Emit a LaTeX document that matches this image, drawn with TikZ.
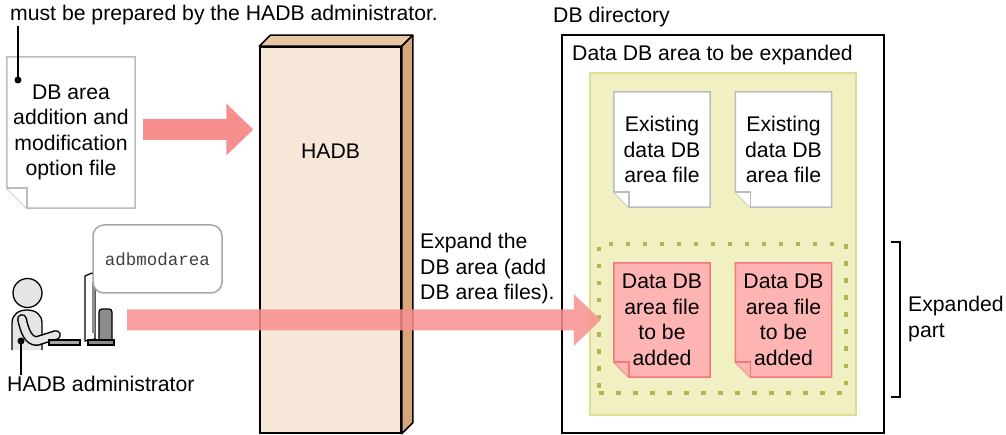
\documentclass[tikz,border=0pt]{standalone}
\usepackage{fontspec}
\setmainfont{Liberation Sans}
\setmonofont{Liberation Mono}
\usetikzlibrary{positioning,calc,backgrounds}

\definecolor{arrowpink}{RGB}{248,143,143}
\definecolor{hadbfront}{RGB}{247,231,216}
\definecolor{hadbtop}{RGB}{233,198,166}
\definecolor{hadbside}{RGB}{215,167,122}
\definecolor{areayellow}{RGB}{240,240,194}
\definecolor{areaborder}{RGB}{222,222,150}
\definecolor{dotolive}{RGB}{180,180,82}
\definecolor{addfill}{RGB}{255,180,180}
\definecolor{addborder}{RGB}{238,122,122}
\definecolor{docgray}{RGB}{188,188,188}

% file outline with a turned-down bottom-left corner: node, fold, style
\newcommand{\foldfile}[3]{%
  \filldraw[#3] (#1.north west) -- (#1.north east) -- (#1.south east)
    -- ($(#1.south west)+(#2,0)$) -- ($(#1.south west)+(0,-#2)$) -- cycle;
  \draw[#3] ($(#1.south west)+(0,-#2)$) -- ($(#1.south west)+(#2,-#2)$)
    -- ($(#1.south west)+(#2,0)$);}

% broad horizontal arrow: tail point, tip point, style
\newcommand{\broadarrow}[3]{%
  \fill[#3] let \p1=(#1), \p2=(#2) in
    (\x1,\y1+10.5pt) -- (\x2-27pt,\y1+10.5pt) -- (\x2-27pt,\y1+26pt)
    -- (\x2,\y1) -- (\x2-27pt,\y1-26pt) -- (\x2-27pt,\y1-10.5pt)
    -- (\x1,\y1-10.5pt) -- cycle;}

\begin{document}
\begin{tikzpicture}[
    x=1pt, y=-1pt,
    font=\fontsize{21.2}{25.5}\selectfont,
    textline/.style={inner sep=0pt},
    filebox/.style={align=center, inner sep=0pt, minimum width=96pt},
    plainfile/.style={fill=white, draw=docgray, line width=1.5pt},
    addfile/.style={fill=addfill, draw=addborder, line width=1.5pt},
    callout/.style={line width=1.5pt},
    fatarrow/.style={fill=arrowpink},
    bubble/.style={draw=black!35, line width=1.5pt, rounded corners=11pt,
                   fill=white, minimum width=129pt, minimum height=68pt},
    persona/.style={fill=black!10, draw=black, line width=1.3pt},
    bracketline/.style={line width=1.8pt},
]
\useasboundingbox (0,0) rectangle (1006,435);

% === Note on the option file ===
\node[textline, anchor=base west] (prepnote) at (10,21)
     {must be prepared by the HADB administrator.};
\coordinate (prepdot) at (18,80);
\draw[callout] (prepdot) -- (prepdot |- prepnote.south);
\fill (prepdot) circle (3.5pt);

\node[filebox, minimum width=128pt, minimum height=151pt] (optfile) at (71,132.5)
     {DB area\\addition and\\modification\\option file};

% === HADB ===
\node[draw, line width=1.5pt, fill=hadbfront,
      minimum width=141pt, minimum height=386pt] (hadb) at (330.5,240) {};
\filldraw[fill=hadbtop, line width=1.5pt, line join=round]
  (hadb.north west) -- ++(11,-11) -- ($(hadb.north east)+(11,-11)$)
  -- (hadb.north east) -- cycle;
\filldraw[fill=hadbside, line width=1.5pt, line join=round]
  (hadb.north east) -- ++(11,-11) -- ($(hadb.south east)+(11,-11)$)
  -- (hadb.south east) -- cycle;
\node (hadbname) at ($(hadb.north)+(0,105)$) {HADB};

\broadarrow{$(optfile.east)+(8,-3)$}{$(hadb.west)+(-6,-3)$}{fatarrow}

% === HADB administrator at the terminal ===
\fill[black!10] (12,350) -- (12,323) .. controls (12,314) and (19,310) .. (27,310)
  .. controls (36,310) and (42,315) .. (42,323) -- (42,350) -- cycle;
\draw[line width=1.3pt] (12,350) -- (12,323) .. controls (12,314) and (19,310) .. (27,310)
  .. controls (36,310) and (42,315) .. (42,323) -- (42,350);
\draw[line width=10pt, line cap=round, line join=round]
  (22,319) .. controls (25,333) and (29,341) .. (37,341) -- (56,335);
\draw[line width=7pt, black!10, line cap=round, line join=round]
  (22,319) .. controls (25,333) and (29,341) .. (37,341) -- (56,335);
\filldraw[persona] (27.5,293) circle (14.5pt);
\filldraw[persona, fill=black!35] (49,340) rectangle (80,345);
\filldraw[persona, fill=black!45, rounded corners=3pt]
  (99,344) -- (99,309) -- (112,309) -- (112,344) -- cycle;
\filldraw[fill=white, line width=1.3pt, line join=round]
  (85,276) -- (92,273) -- (95,276) -- (95,339) -- (85,341) -- cycle;
\fill[black!45] (91.5,282) rectangle (94.5,333);
\filldraw[persona, fill=black!45] (88,340) rectangle (114,345);

\node[bubble] (cmdbubble) at (157.5,259)
     {\fontsize{17.5}{20}\ttfamily\color{black!75}adbmodarea};

\node[textline, anchor=base west] (adminname) at (7,391) {HADB administrator};
\coordinate (adminpt) at (21,341);
\draw[callout] (adminpt) -- (adminpt |- adminname.north);
\fill (adminpt) circle (3.5pt);

\node[textline, anchor=north west, align=left] (expandnote) at (420,233)
     {Expand the\\DB area (add\\DB area files).};

% === DB directory ===
\node[textline, anchor=base west] (dbdirname) at (553,23) {DB directory};
\node[textline, anchor=base west] (areaname) at (572,61) {Data DB area to be expanded};

\node[filebox, minimum height=115pt] (existone) at (662,149.5)
     {Existing\\data DB\\area file};
\node[filebox, minimum height=115pt] (existtwo) at (783.5,149.5)
     {Existing\\data DB\\area file};

\node[draw=dotolive, line width=4.5pt, dash pattern=on 4.5pt off 12.5pt,
      minimum width=247pt, minimum height=149pt] (expanded) at (722.5,318.5) {};

\node[filebox, minimum height=114pt] (addone) at (662,320)
     {Data DB\\area file\\to be\\added};
\node[filebox, minimum height=114pt] (addtwo) at (783.5,320)
     {Data DB\\area file\\to be\\added};

% boxes and file outlines behind the texts
\begin{scope}[on background layer]
  \node[draw, line width=1.5pt, fill=white,
        minimum width=322pt, minimum height=398pt] (dbdir) at (723,234) {};
  \node[draw=areaborder, fill=areayellow, line width=1.5pt,
        minimum width=266pt, minimum height=342pt] (dataarea) at (723,244) {};
  \foldfile{optfile}{20}{plainfile}
  \foldfile{existone}{15}{plainfile}
  \foldfile{existtwo}{15}{plainfile}
  \foldfile{addone}{15}{addfile}
  \foldfile{addtwo}{15}{addfile}
\end{scope}

% === Expanded part ===
\draw[bracketline] ($(expanded.north east)+(43,0)$) -- ++(9,0)
  -- ($(expanded.south east)+(52,2)$) -- ++(-9,0);
\node[textline, anchor=west, align=left] (expandedname) at (908,319) {Expanded\\part};

\coordinate (adminout) at (127,320);
\broadarrow{adminout}{$(expanded.west)+(4,0)$}{fatarrow, opacity=0.85}

\end{tikzpicture}
\end{document}
